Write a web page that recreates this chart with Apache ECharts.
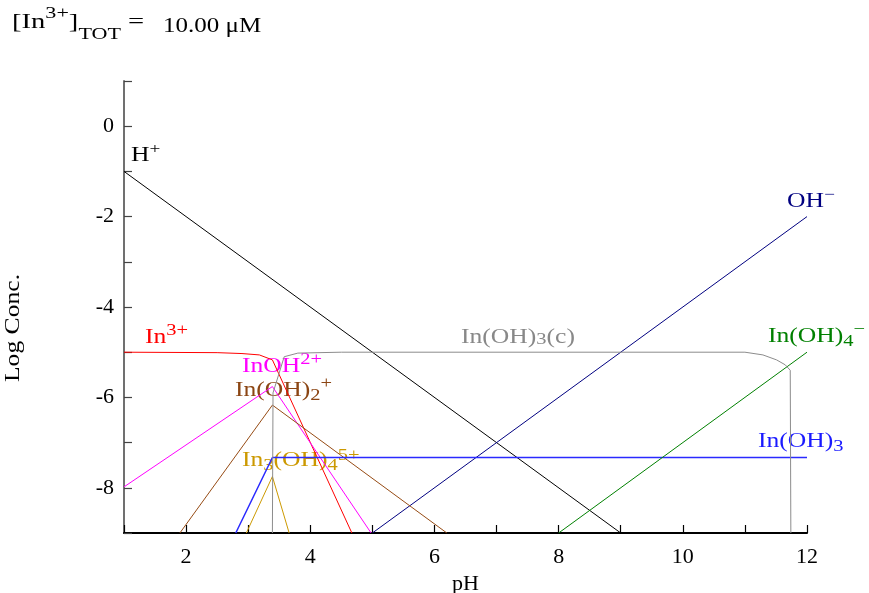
<!DOCTYPE html>
<html><head><meta charset="utf-8">
<script src="https://cdn.jsdelivr.net/npm/echarts@6/dist/echarts.min.js"></script>
<style>html,body{margin:0;padding:0;background:#fff}#c{width:869px;height:593px}</style>
</head><body><div id="c"></div>
<script>
// ---- tick labels ----
const xTickLabels = ['2', '4', '6', '8', '10', '12'];
const yTickLabels = ['0', '-2', '-4', '-6', '-8'];

// ---- species: pH values and log concentrations ----
const H_pH = [1, 9];
const H_log = [-1, -9];
const OH_pH = [5, 12];
const OH_log = [-9, -2];
const In_pH = [1, 2.5, 2.9, 3.18, 3.39, 4.67];
const In_log = [-5.0, -5.01, -5.03, -5.06, -5.17, -9];
const InOH_pH = [1, 3.39, 4.98];
const InOH_log = [-7.98, -5.76, -9];
const InOH2_pH = [1.9, 3.39, 6.2];
const InOH2_log = [-9, -6.17, -9];
const InOH3_pH = [2.8, 3.39, 12];
const InOH3_log = [-9, -7.33, -7.33];
const In3OH4_pH = [2.97, 3.39, 3.66];
const In3OH4_log = [-9, -7.75, -9];
const InOH4_pH = [8, 12];
const InOH4_log = [-9, -5];
const solid_pH = [3.39, 3.40, 3.58, 3.8, 4.5, 11.0, 11.29, 11.51, 11.65, 11.73, 11.74];
const solid_log = [-9, -5.9, -5.1, -5.02, -5.0, -5.0, -5.06, -5.17, -5.28, -5.4, -9];

const serif = '"Liberation Serif", "Times New Roman", serif';
const SX = 1.28;

function mk(name, xs, ys, color, w) {
  return {
    type: 'line', name: name, data: xs.map((x, i) => [x, ys[i]]),
    symbol: 'none', showSymbol: false, silent: true, animation: false,
    lineStyle: { color: color, width: w || 1 }, itemStyle: { color: color }
  };
}

function lbl(x, y, text, color, opts) {
  opts = opts || {};
  const fs = opts.fs || 20, ss = opts.ss || 15;
  return {
    type: 'text', x: x, y: y, scaleX: opts.sx || SX, silent: true,
    style: {
      text: text, fill: color, fontSize: fs, fontFamily: serif,
      align: 'left', verticalAlign: 'middle',
      rich: {
        sup: { fontSize: ss, fontFamily: serif, fill: color, padding: [0, 0, opts.supPad || 14, 0] },
        sub: { fontSize: ss, fontFamily: serif, fill: color, padding: [opts.subPad || 10, 0, 0, 0] }
      }
    }
  };
}

const chart = echarts.init(document.getElementById('c'), null, { renderer: 'canvas' });
chart.setOption({
  animation: false,
  backgroundColor: '#fff',
  grid: { left: 124, right: 62, top: 81, bottom: 60, containLabel: false, outerBoundsMode: 'none' },
  xAxis: {
    type: 'value', min: 1, max: 12, interval: 1,
    axisLine: { onZero: false, lineStyle: { color: '#000', width: 2 } },
    axisTick: { inside: true, length: 8, lineStyle: { color: '#000', width: 1.2 } },
    axisLabel: {
      margin: 13, color: '#000', fontSize: 22, fontFamily: serif,
      formatter: v => (xTickLabels.includes(String(v)) ? String(v) : '')
    },
    splitLine: { show: false },
    name: 'pH', nameLocation: 'middle', nameGap: 40,
    nameTextStyle: { color: '#000', fontSize: 22, fontFamily: serif }
  },
  yAxis: {
    type: 'value', min: -9, max: 1, interval: 1,
    axisLine: { onZero: false, lineStyle: { color: '#707070', width: 2 } },
    axisTick: { inside: true, length: 8, lineStyle: { color: '#444', width: 1.2 } },
    axisLabel: {
      margin: 10, color: '#000', fontSize: 22, fontFamily: serif,
      formatter: v => (yTickLabels.includes(String(v)) ? String(v) : '')
    },
    splitLine: { show: false }
  },
  series: [
    mk('H+', H_pH, H_log, '#000000'),
    mk('OH-', OH_pH, OH_log, '#000080'),
    mk('In3+', In_pH, In_log, '#ff0000'),
    mk('InOH2+', InOH_pH, InOH_log, '#ff00ff'),
    mk('In(OH)2+', InOH2_pH, InOH2_log, '#964B14'),
    mk('In(OH)3', InOH3_pH, InOH3_log, '#2a2aff', 1.5),
    mk('In3(OH)4 5+', In3OH4_pH, In3OH4_log, '#CC9900'),
    mk('In(OH)4-', InOH4_pH, InOH4_log, '#008000'),
    mk('In(OH)3(c)', solid_pH, solid_log, '#8C8C8C')
  ],
  graphic: [
    lbl(12, 22, '[In{sup|3+}]{sub|TOT} =', '#000', { fs: 22, ss: 17, subPad: 26, supPad: 16, sx: 1.3 }),
    lbl(163, 27, '10.00 μM', '#000', { fs: 20, sx: 1.25 }),
    lbl(131, 156, 'H{sup|+}', '#000'),
    lbl(787, 202, 'OH{sup|−}', '#000080'),
    lbl(145, 338, 'In{sup|3+}', '#ff0000', { ss: 16 }),
    lbl(242, 367, 'InOH{sup|2+}', '#ff00ff', { ss: 16 }),
    lbl(235, 391, 'In(OH){sub|2}{sup|+}', '#8B4513', { ss: 16 }),
    lbl(242, 461, 'In{sub|3}(OH){sub|4}{sup|5+}', '#CC9900', { ss: 16, supPad: 10 }),
    lbl(461, 338, 'In(OH){sub|3}(c)', '#888888', { ss: 16, subPad: 4 }),
    lbl(768, 337, 'In(OH){sub|4}{sup|−}', '#008000', { ss: 16 }),
    lbl(758, 442, 'In(OH){sub|3}', '#1a1aff', { ss: 16 }),
    {
      type: 'text', x: 14, y: 328, rotation: Math.PI / 2, scaleX: 1.28, silent: true,
      style: { text: 'Log Conc.', fill: '#000', fontSize: 20, fontFamily: serif, align: 'center', verticalAlign: 'middle' }
    }
  ]
});
</script>
</body></html>
